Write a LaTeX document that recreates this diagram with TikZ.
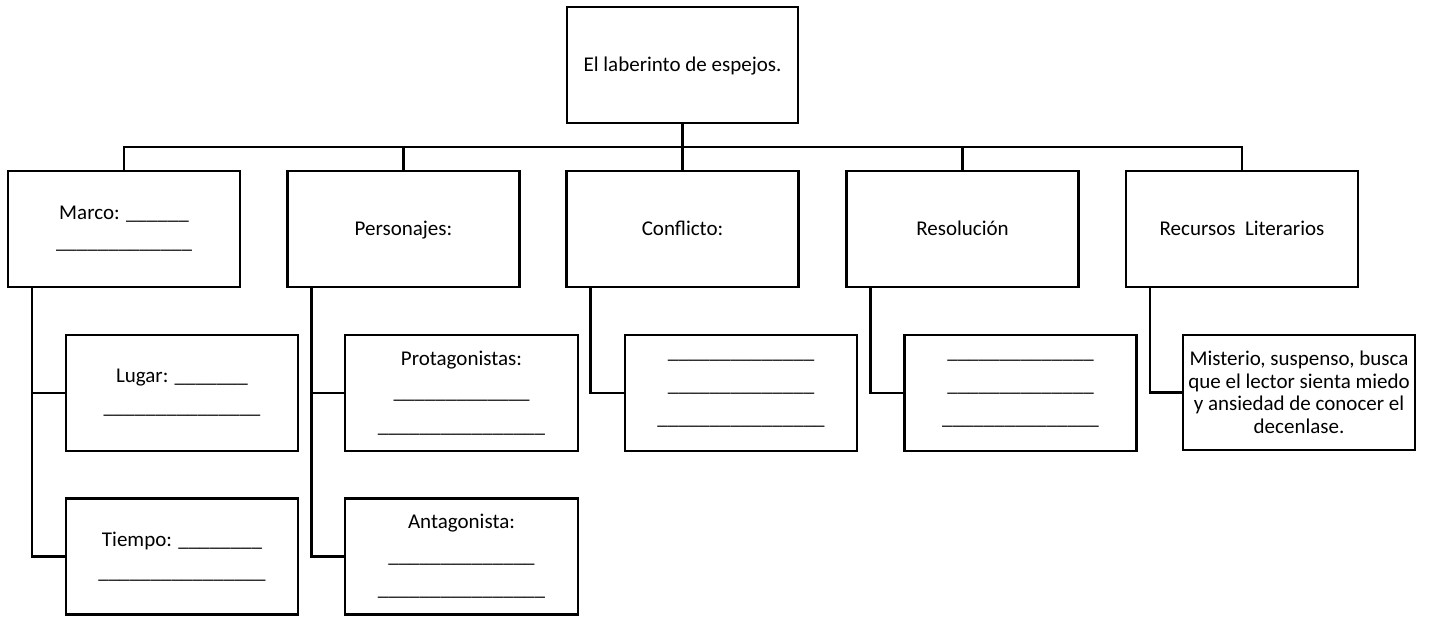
\documentclass[tikz,border=0pt]{standalone}
\usepackage{fontspec}
\setmainfont{Carlito}
\newcommand\myblanks[1]{\foreach\myi in {1,...,#1}{\_}}
\begin{document}
\begin{tikzpicture}[x=1pt,y=-1pt,
  box/.style={draw=black,line width=2.5pt,fill=white,minimum width=232pt,minimum height=116pt,
    inner sep=0pt,outer sep=0pt,align=center,font=\fontsize{21}{29}\selectfont},
  oneline/.style={text height=17pt,text depth=3pt},
  con/.style={draw=black,line width=2.3pt},
  ]
\useasboundingbox (0,0) rectangle (1431,617);
\coordinate (bus) at (0,147);
% root
\node[box,oneline,minimum width=231pt] (root) at (682.5,65) {El laberinto de espejos.};
% level 1
\node[box] (marco) at (124,229) {Marco: \myblanks{6}\\\myblanks{13}};
\node[box,oneline] (pers) at (403.5,229) {Personajes:};
\node[box,oneline] (conf) at (682.5,229) {Conflicto:};
\node[box,oneline] (reso) at (962.5,229) {Resolución};
\node[box,oneline] (recu) at (1242,229) {Recursos\ \ Literarios};
% level 2
\node[box,font=\fontsize{21}{31}\selectfont] (lugar) at (182,393) {Lugar: \myblanks{7}\\\myblanks{15}};
\node[box,font=\fontsize{21}{32}\selectfont] (tiempo) at (182,556.5) {Tiempo: \myblanks{8}\\\myblanks{16}};
\node[box,minimum width=233pt,font=\fontsize{21}{33.5}\selectfont] (prot) at (461.5,393) {Protagonistas:\\\myblanks{13}\\\myblanks{16}};
\node[box,minimum width=233pt,font=\fontsize{21}{33.5}\selectfont] (anta) at (461.5,556.5) {Antagonista:\\\myblanks{14}\\\myblanks{16}};
\node[box,font=\fontsize{21}{33}\selectfont] (confc) at (741,393) {\myblanks{14}\\\myblanks{14}\\\myblanks{16}};
\node[box,font=\fontsize{21}{33}\selectfont] (resoc) at (1020.5,393) {\myblanks{14}\\\myblanks{14}\\\myblanks{15}};
\node[box,minimum height=115pt,font=\fontsize{21}{22.5}\selectfont] (recuc) at (1299,392.5)
  {Misterio, suspenso, busca\\que el lector sienta miedo\\y ansiedad de conocer el\\decenlase.};
% connectors
\draw[con,line width=3pt] (root.south) -- (conf.north);
\draw[con] (marco.north) -- (marco.north |- bus) -- (recu.north |- bus) -- (recu.north);
\draw[con] (pers.north) -- (pers.north |- bus);
\draw[con] (reso.north) -- (reso.north |- bus);
\draw[con] ([xshift=24pt]marco.south west) |- (tiempo.west);
\draw[con] ([xshift=24pt]marco.south west) |- (lugar.west);
\draw[con] ([xshift=24pt]pers.south west) |- (anta.west);
\draw[con] ([xshift=24pt]pers.south west) |- (prot.west);
\draw[con] ([xshift=24pt]conf.south west) |- (confc.west);
\draw[con] ([xshift=24pt]reso.south west) |- (resoc.west);
\draw[con] ([xshift=24pt]recu.south west) |- (recuc.west);
\end{tikzpicture}
\end{document}
